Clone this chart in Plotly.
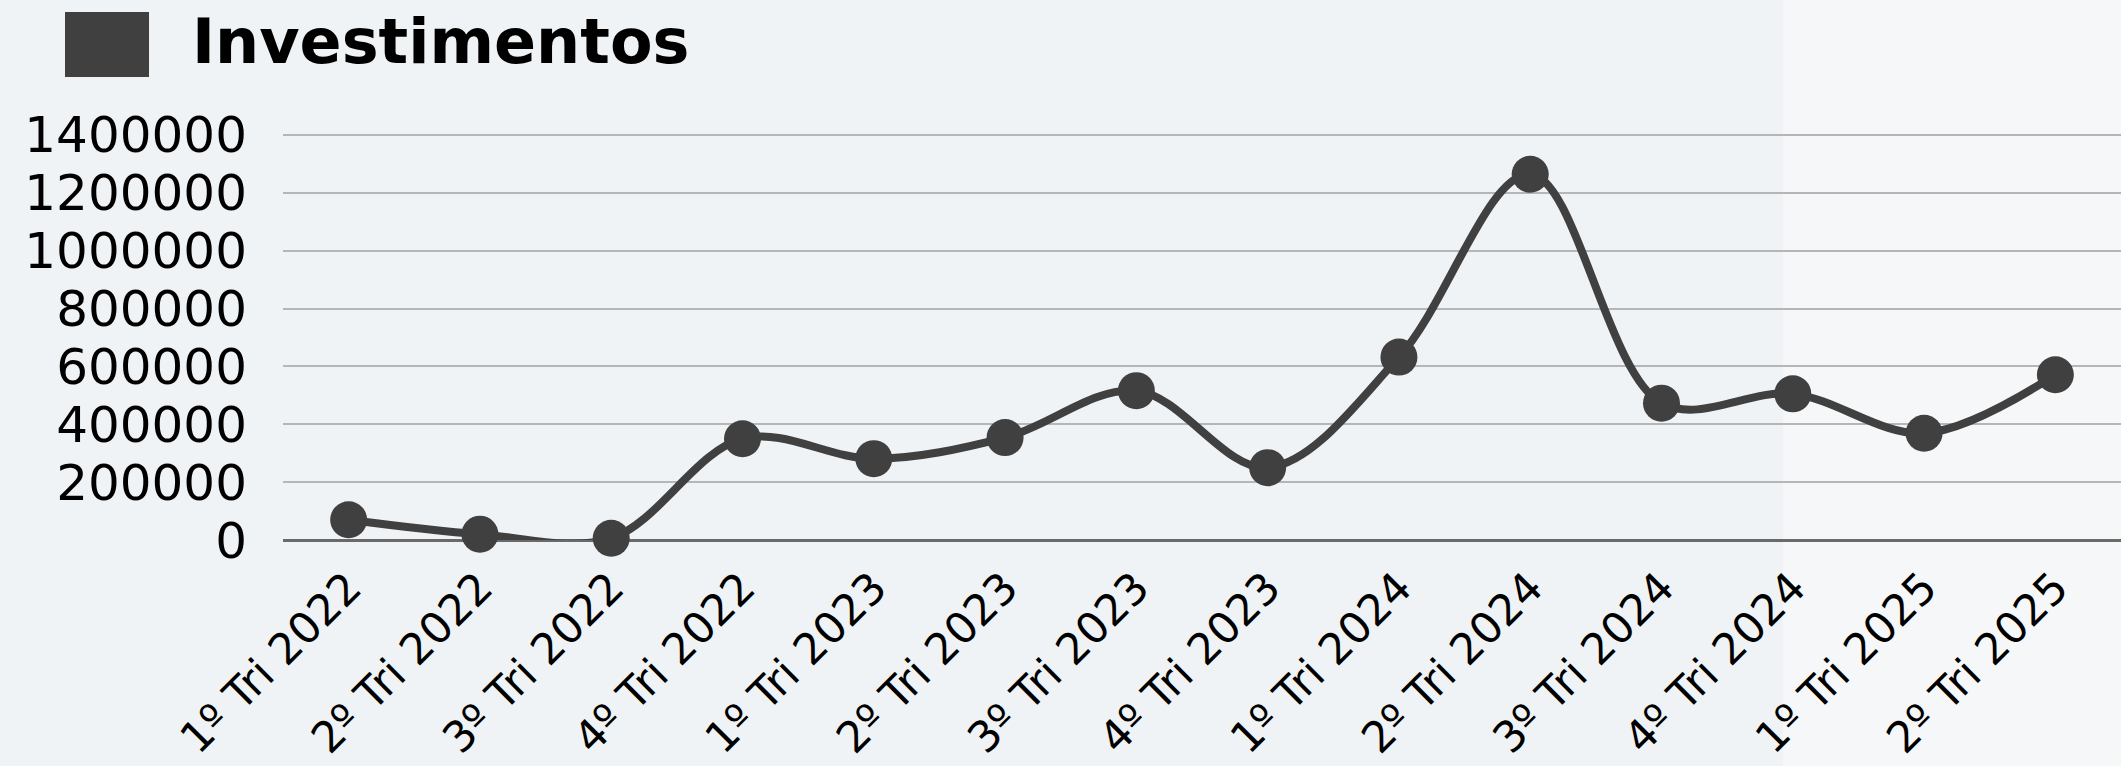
import plotly.graph_objects as go

categories = ["1º Tri 2022", "2º Tri 2022", "3º Tri 2022", "4º Tri 2022",
              "1º Tri 2023", "2º Tri 2023", "3º Tri 2023", "4º Tri 2023",
              "1º Tri 2024", "2º Tri 2024", "3º Tri 2024", "4º Tri 2024",
              "1º Tri 2025", "2º Tri 2025"]
investimentos = [70000, 20000, 6000, 350000,
                 281000, 354000, 516000, 250000,
                 632000, 1264000, 473000, 505000,
                 369000, 571000]
y_ticks = [0, 200000, 400000, 600000, 800000, 1000000, 1200000, 1400000]
series_name = "Investimentos"

W, H = 2121, 766
L, R, T, B = 283, 0, 132, 226
PW, PH = W - L - R, H - T - B
color = "#404040"

fig = go.Figure()
fig.add_trace(go.Scatter(
    x=categories, y=investimentos, name=series_name,
    mode="lines+markers",
    line=dict(color=color, width=8, shape="spline", smoothing=1),
    marker=dict(color=color, size=37),
    cliponaxis=False, showlegend=False,
))

fig.update_layout(
    width=W, height=H, autosize=False,
    margin=dict(l=L, r=R, t=T, b=B, pad=0, autoexpand=False),
    paper_bgcolor="#eff3f5",
    plot_bgcolor="rgba(0,0,0,0)",
    font=dict(family="DejaVu Sans", color="#000000"),
    xaxis=dict(
        type="category", range=[-0.5, len(categories) - 0.5], autorange=False,
        automargin=False,
        tickangle=-45, showgrid=False, zeroline=False,
        showline=False, ticks="outside", ticklen=4, tickcolor="rgba(0,0,0,0)",
        tickfont=dict(size=43, family="DejaVu Sans", color="#000"),
    ),
    yaxis=dict(
        range=[0, 1410000], autorange=False, automargin=False,
        tickvals=y_ticks, ticktext=[str(v) for v in y_ticks],
        showgrid=True, gridcolor="#b4b6b8", gridwidth=2,
        zeroline=True, zerolinecolor="#6a6a6a", zerolinewidth=3,
        showline=False, ticks="outside", ticklen=25, tickcolor="rgba(0,0,0,0)",
        tickfont=dict(size=50, family="DejaVu Sans", color="#000"),
    ),
    shapes=[
        dict(type="rect", xref="paper", yref="paper",
             x0=(1783 - L) / PW, x1=1.0, y0=-B / PH, y1=1 + T / PH,
             fillcolor="#f6f7f8", line=dict(width=0), layer="below"),
        dict(type="rect", xref="paper", yref="paper",
             x0=(65 - L) / PW, x1=(149 - L) / PW,
             y0=1 + (T - 77) / PH, y1=1 + (T - 12) / PH,
             fillcolor=color, line=dict(width=0)),
    ],
    annotations=[
        dict(text="<b>" + series_name + "</b>", xref="paper", yref="paper",
             x=(190 - L) / PW, y=1 + (T - 42) / PH,
             xanchor="left", yanchor="middle", showarrow=False,
             font=dict(family="DejaVu Sans", size=62, color="#000")),
    ],
)

fig.write_html("out.html", config={"displayModeBar": False},
               post_script="document.body.style.margin='0';document.body.style.overflow='hidden';")
